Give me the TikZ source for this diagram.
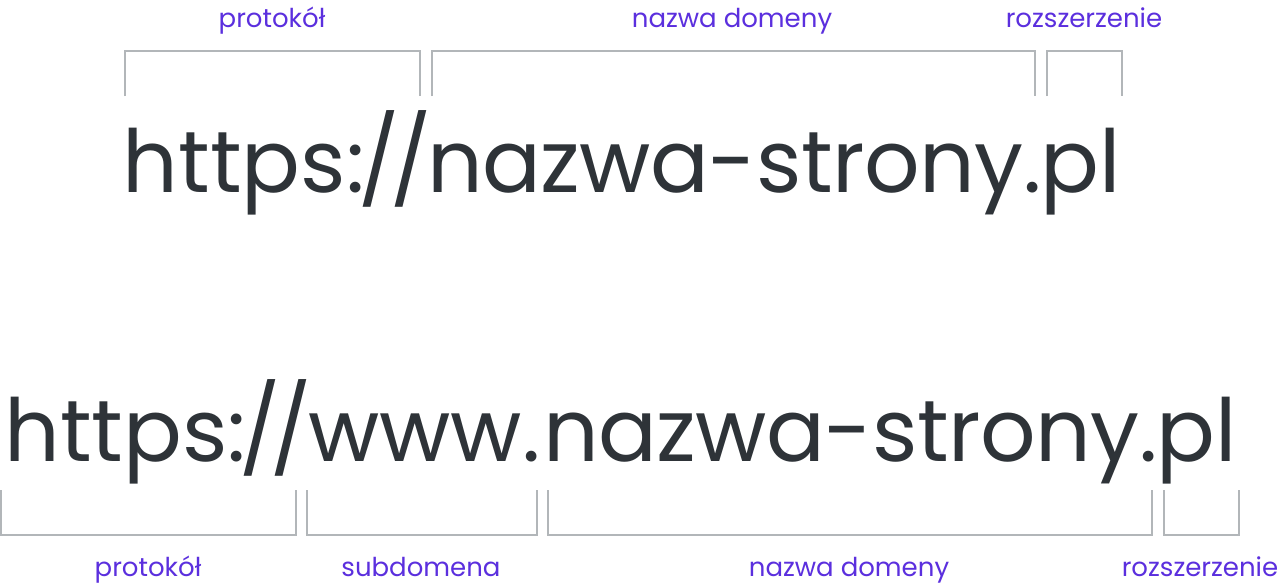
\documentclass[tikz,border=0pt]{standalone}
\usepackage{fontspec}
\setmainfont{Poppins}
\newfontfamily\urlfont{Poppins}
\newfontfamily\urlfonttight[LetterSpace=-0.6]{Poppins}
\definecolor{urltext}{HTML}{2E3338}
\definecolor{lbl}{HTML}{5B2FDE}
\definecolor{brk}{HTML}{B2B6B9}
\tikzset{
  url/.style={inner sep=0pt, anchor=base west, text=urltext, font=\urlfont\fontsize{87}{95}\selectfont},
  urltight/.style={url, font=\urlfonttight\fontsize{87}{95}\selectfont},
  label/.style={inner sep=0pt, anchor=base, text=lbl, font=\fontsize{26}{30}\selectfont},
  bracket/.style={draw=brk, line width=1.5pt}
}
\begin{document}
\begin{tikzpicture}[x=1pt,y=-1pt]
\useasboundingbox[fill=white] (0,0) rectangle (1280,586);
% top
\node[url] (u1) at (122.7,192.7) {https:\kern-6pt/\kern-10pt/};
\node[urltight] (u1b) at (427,192.7) {nazwa-strony.pl};
\node[label] (l1) at (272,28) {protokół};
\node[label] (l2) at (732,28) {nazwa domeny};
\node[label] (l3) at (1084,28) {rozszerzenie};
\draw[bracket] (125,96) -- (125,51) -- (420,51) -- (420,96);
\draw[bracket] (432,96) -- (432,51) -- (1035,51) -- (1035,96);
\draw[bracket] (1047,96) -- (1047,51) -- (1122,51) -- (1122,96);
% bottom
\node[url] (u2) at (4.4,461.7) {https:\kern-7pt/\kern-10pt/};
\node[url] (u2b) at (308,461.7) {www.};
\node[urltight] (u2c) at (543,461.7) {nazwa-strony.pl};
\node[label] (b1) at (148,576) {protokół};
\node[label] (b2) at (421,576) {subdomena};
\node[label] (b3) at (849,576) {nazwa domeny};
\node[label] (b4) at (1200,576) {rozszerzenie};
\draw[bracket] (1,490) -- (1,535) -- (296,535) -- (296,490);
\draw[bracket] (307,490) -- (307,535) -- (537,535) -- (537,490);
\draw[bracket] (548,490) -- (548,535) -- (1152,535) -- (1152,490);
\draw[bracket] (1164,490) -- (1164,535) -- (1239,535) -- (1239,490);
\end{tikzpicture}
\end{document}
